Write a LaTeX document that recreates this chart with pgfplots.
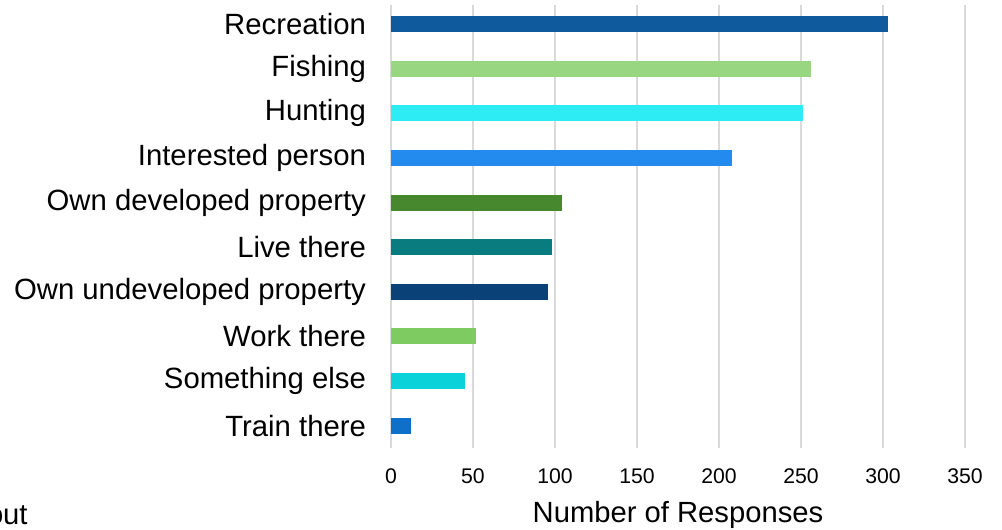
\documentclass[border=0pt]{standalone}
\usepackage{pgfplots}
\pgfplotsset{compat=1.18}
\usepackage{fontspec}
\setmainfont{Liberation Sans}
\definecolor{cRec}{HTML}{0E5A9C}
\definecolor{cFish}{HTML}{98D682}
\definecolor{cHunt}{HTML}{2DECF4}
\definecolor{cInt}{HTML}{238AEE}
\definecolor{cOwnDev}{HTML}{47872E}
\definecolor{cLive}{HTML}{097C80}
\definecolor{cOwnUndev}{HTML}{0A4277}
\definecolor{cWork}{HTML}{7ECB62}
\definecolor{cElse}{HTML}{0BD1D9}
\definecolor{cTrain}{HTML}{0E70C9}
\definecolor{gridgray}{HTML}{D9D9D9}
\begin{document}
\begin{tikzpicture}
\path[use as bounding box] (0,0) rectangle (501pt,265pt);
\begin{axis}[
  at={(195.5pt,41pt)}, anchor=south west,
  scale only axis, width=287pt, height=221.5pt,
  xbar, bar width=8pt, bar shift=0pt,
  xmin=0, xmax=350, ymin=-0.5, ymax=9.43,
  xtick={0,50,...,350},
  ytick={0,...,9},
  yticklabels={Train there, Something else, Work there, Own undeveloped property, Live there, Own developed property, Interested person, Hunting, Fishing, Recreation},
  axis line style={draw=none},
  major tick length=0pt,
  xmajorgrids,
  grid style={draw=gridgray, line width=1pt},
  /pgf/number format/assume math mode=true,
  xticklabel style={font=\fontsize{10.6}{12}\selectfont, yshift=-7pt},
  yticklabel style={font=\fontsize{14.65}{16}\selectfont, xshift=-9pt},
  xlabel={Number of Responses},
  xlabel style={font=\fontsize{14.6}{16}\selectfont, yshift=-2pt},
]
\addplot[fill=cTrain, draw=none] coordinates {(12,0)};
\addplot[fill=cElse, draw=none] coordinates {(45,1)};
\addplot[fill=cWork, draw=none] coordinates {(52,2)};
\addplot[fill=cOwnUndev, draw=none] coordinates {(96,3)};
\addplot[fill=cLive, draw=none] coordinates {(98,4)};
\addplot[fill=cOwnDev, draw=none] coordinates {(104,5)};
\addplot[fill=cInt, draw=none] coordinates {(208,6)};
\addplot[fill=cHunt, draw=none] coordinates {(251,7)};
\addplot[fill=cFish, draw=none] coordinates {(256,8)};
\addplot[fill=cRec, draw=none] coordinates {(303,9)};
\end{axis}
\node[anchor=base east, font=\fontsize{14.6}{16}\selectfont, inner sep=0pt] at (14pt,2.5pt) {out};
\end{tikzpicture}
\end{document}
